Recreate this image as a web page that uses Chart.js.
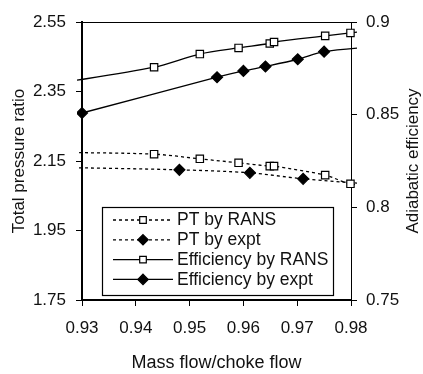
<!DOCTYPE html>
<html>
<head>
<meta charset="utf-8">
<script src="https://cdn.jsdelivr.net/npm/chart.js@4/dist/chart.umd.min.js"></script>
<style>
  html, body { margin: 0; padding: 0; background: #fff; }
  #wrap { width: 423px; height: 374px; position: relative; }
</style>
</head>
<body>
<div id="wrap"><canvas id="c" width="423" height="374"></canvas></div>
<script>
// ---- Data ----
// RANS: mass flow points (first/last lie just outside the axis range, lines clipped there)
const massFlowRANS = [0.925, 0.9434, 0.9519, 0.9591, 0.9649, 0.9657, 0.9752, 0.9799, 0.985];
const ptRANS       = [2.175, 2.1697, 2.1562, 2.1447, 2.1352, 2.1352, 2.1094, 2.0843, 2.082];
const effRANS      = [0.8667, 0.8756, 0.8827, 0.8860, 0.8884, 0.8892, 0.8925, 0.8941, 0.8958];
// Experiment
const massFlowPTexpt  = [0.925, 0.9481, 0.9612, 0.9711, 0.985];
const ptExpt          = [2.1318, 2.1246, 2.116, 2.0987, 2.082];
const massFlowEffExpt = [0.93, 0.9551, 0.96, 0.9641, 0.9701, 0.975, 0.985];
const effExpt         = [0.8509, 0.8702, 0.8736, 0.8760, 0.8799, 0.8840, 0.8868];

const seriesLabels = ['PT by RANS', 'PT by expt', 'Efficiency by RANS', 'Efficiency by expt'];

// Tick labels
const xTicks     = [0.93, 0.94, 0.95, 0.96, 0.97, 0.98];
const leftTicks  = [1.75, 1.95, 2.15, 2.35, 2.55];
const rightTicks = [0.75, 0.8, 0.85, 0.9];

const xTitle = 'Mass flow/choke flow';
const yTitle = 'Total pressure ratio';
const y2Title = 'Adiabatic efficiency';

// ---- Chart ----
const FONT = 'Liberation Sans, Arial, sans-serif';
const TXT = '#111';
const X_MIN = xTicks[0], X_MAX = xTicks[xTicks.length - 1];

function pts(xs, ys) { return xs.map((x, i) => ({ x: x, y: ys[i] })); }
function inRange(ctx) {
  const r = ctx.raw;
  return r && r.x >= X_MIN - 1e-9 && r.x <= X_MAX + 1e-9;
}

const common = {
  borderColor: '#000',
  borderWidth: 1.3,
  tension: 0.3,
  pointBorderColor: '#000',
  pointBorderWidth: 1.2,
  clip: { left: 5, right: 6, top: 2, bottom: 2 }
};

const datasets = [
  Object.assign({}, common, {
    label: seriesLabels[0], yAxisID: 'y', data: pts(massFlowRANS, ptRANS),
    borderDash: [3, 3], pointStyle: 'rect', pointBackgroundColor: '#fff',
    pointRadius: ctx => inRange(ctx) ? 5.2 : 0
  }),
  Object.assign({}, common, {
    label: seriesLabels[1], yAxisID: 'y', data: pts(massFlowPTexpt, ptExpt),
    borderDash: [3, 3], pointStyle: 'rectRot', pointBackgroundColor: '#000',
    pointRadius: ctx => inRange(ctx) ? 5.5 : 0
  }),
  Object.assign({}, common, {
    label: seriesLabels[2], yAxisID: 'y2', data: pts(massFlowRANS, effRANS),
    pointStyle: 'rect', pointBackgroundColor: '#fff',
    pointRadius: ctx => inRange(ctx) ? 5.2 : 0
  }),
  Object.assign({}, common, {
    label: seriesLabels[3], yAxisID: 'y2', data: pts(massFlowEffExpt, effExpt),
    pointStyle: 'rectRot', pointBackgroundColor: '#000',
    pointRadius: ctx => inRange(ctx) ? 5.5 : 0
  })
];

function fmtTrim(v) { return String(Number(v.toFixed(2))); }

const customPlugin = {
  id: 'custom',
  afterDatasetsDraw(chart) {
    const ctx = chart.ctx;
    const a = chart.chartArea;
    ctx.save();
    // top frame line
    ctx.strokeStyle = '#000';
    ctx.lineWidth = 1;
    ctx.beginPath();
    ctx.moveTo(a.left, Math.round(a.top) + 0.5);
    ctx.lineTo(a.right, Math.round(a.top) + 0.5);
    ctx.stroke();

    // legend box
    const bx = 102.5, by = 207.5, bw = 231, bh = 88;
    ctx.fillStyle = '#fff';
    ctx.fillRect(bx, by, bw, bh);
    ctx.lineWidth = 1.2;
    ctx.strokeStyle = '#000';
    ctx.strokeRect(bx, by, bw, bh);
    ctx.font = '17.5px ' + FONT;
    ctx.textBaseline = 'middle';
    ctx.textAlign = 'left';
    chart.data.datasets.forEach((ds, i) => {
      const yy = 220 + i * 19.8;
      ctx.save();
      ctx.strokeStyle = '#000';
      ctx.lineWidth = ds.borderWidth;
      ctx.setLineDash(ds.borderDash || []);
      ctx.beginPath();
      ctx.moveTo(113, yy);
      ctx.lineTo(173, yy);
      ctx.stroke();
      ctx.restore();
      ctx.save();
      ctx.fillStyle = ds.pointBackgroundColor;
      ctx.strokeStyle = '#000';
      ctx.lineWidth = 1.2;
      ctx.beginPath();
      if (ds.pointStyle === 'rect') {
        ctx.rect(143 - 3.3, yy - 3.3, 6.6, 6.6);
      } else {
        ctx.moveTo(143, yy - 5.2); ctx.lineTo(148.2, yy); ctx.lineTo(143, yy + 5.2); ctx.lineTo(137.8, yy); ctx.closePath();
      }
      ctx.fill(); ctx.stroke();
      ctx.restore();
      ctx.fillStyle = TXT;
      ctx.fillText(ds.label, 177, yy + 0.5);
    });

    // right axis title (reads bottom-to-top)
    ctx.save();
    ctx.translate(413, (a.top + a.bottom) / 2);
    ctx.rotate(-Math.PI / 2);
    ctx.textAlign = 'center';
    ctx.textBaseline = 'middle';
    ctx.fillStyle = TXT;
    ctx.font = '17px ' + FONT;
    ctx.fillText(y2Title, 0, 0);
    ctx.restore();

    ctx.restore();
  }
};

new Chart(document.getElementById('c'), {
  type: 'line',
  data: { datasets: datasets },
  options: {
    responsive: false,
    animation: false,
    devicePixelRatio: 1,
    layout: { padding: { top: 22, left: 0, right: 0, bottom: 0 } },
    plugins: {
      legend: { display: false },
      tooltip: { enabled: false }
    },
    scales: {
      x: {
        type: 'linear', position: 'bottom', min: X_MIN, max: X_MAX,
        afterBuildTicks: axis => { axis.ticks = xTicks.map(v => ({ value: v })); },
        afterFit: s => { s.height = 74; },
        ticks: { color: TXT, font: { size: 17, family: FONT }, padding: 12,
                 callback: v => v.toFixed(2), maxRotation: 0, autoSkip: false },
        grid: { display: true, drawOnChartArea: false, color: '#000', tickLength: 6, lineWidth: 1 },
        border: { display: true, color: '#000', width: 2 },
        title: { display: true, text: xTitle, color: TXT, font: { size: 18, family: FONT }, padding: { top: 0, bottom: 0 } }
      },
      y: {
        type: 'linear', position: 'left', min: leftTicks[0], max: leftTicks[leftTicks.length - 1],
        afterBuildTicks: axis => { axis.ticks = leftTicks.map(v => ({ value: v })); },
        afterFit: s => { s.width = 82; },
        ticks: { color: TXT, font: { size: 17, family: FONT }, padding: 10,
                 callback: v => v.toFixed(2), autoSkip: false },
        grid: { display: true, drawOnChartArea: false, color: '#000', tickLength: 6, lineWidth: 1 },
        border: { display: true, color: '#000', width: 2 },
        title: { display: true, text: yTitle, color: TXT, font: { size: 17, family: FONT }, padding: { top: 9, bottom: 0 } }
      },
      y2: {
        type: 'linear', position: 'right', min: rightTicks[0], max: rightTicks[rightTicks.length - 1],
        afterBuildTicks: axis => { axis.ticks = rightTicks.map(v => ({ value: v })); },
        afterFit: s => { s.width = 72; },
        ticks: { color: TXT, font: { size: 17, family: FONT }, padding: 9,
                 callback: v => fmtTrim(v), autoSkip: false },
        grid: { display: true, drawOnChartArea: false, color: '#000', tickLength: 6, lineWidth: 1 },
        border: { display: true, color: '#000', width: 1 }
      }
    }
  },
  plugins: [customPlugin]
});
</script>
</body>
</html>
